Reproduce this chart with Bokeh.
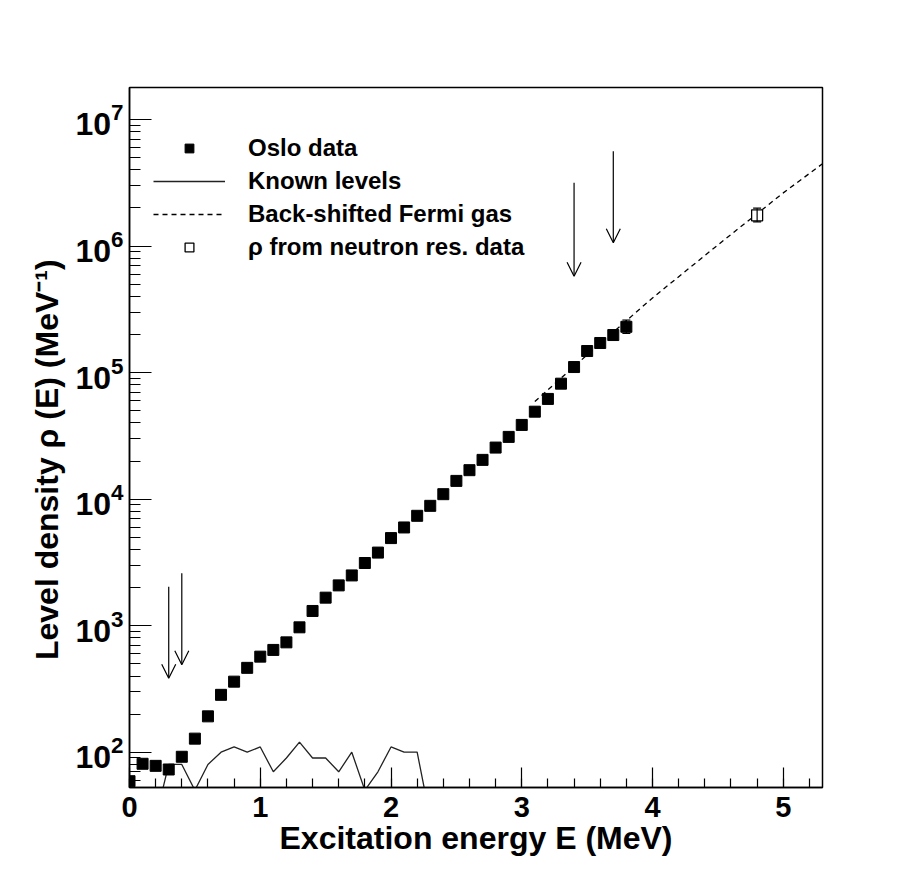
from bokeh.plotting import figure
from bokeh.models import (FixedTicker, Range1d, Legend, LegendItem, Arrow, OpenHead,
                          Whisker, TeeHead, ColumnDataSource, LogTickFormatter)
from bokeh.embed import file_html
from bokeh.resources import INLINE

# ---------------- data ----------------
oslo_E = [0.0, 0.1, 0.2, 0.3, 0.4, 0.5, 0.6, 0.7, 0.8, 0.9,
          1.0, 1.1, 1.2, 1.3, 1.4, 1.5, 1.6, 1.7, 1.8, 1.9,
          2.0, 2.1, 2.2, 2.3, 2.4, 2.5, 2.6, 2.7, 2.8, 2.9,
          3.0, 3.1, 3.2, 3.3, 3.4, 3.5, 3.6, 3.7, 3.8]
oslo_rho = [59, 81, 78, 73, 92, 128, 192, 284, 361, 464,
            569, 643, 738, 970, 1306, 1664, 2081, 2494, 3127, 3780,
            4920, 5970, 7380, 8850, 10940, 13930, 16930, 20420, 25550, 31020,
            38570, 49080, 61900, 81700, 110600, 148000, 171300, 198000, 230000]
oslo_err_E = [3.7, 3.8]
oslo_err_lo = [188000, 204000]
oslo_err_hi = [210000, 260000]

levels_E = [0.2, 0.3, 0.4, 0.5, 0.6, 0.7, 0.8, 0.9, 1.0, 1.1, 1.2,
            1.3, 1.4, 1.5, 1.6, 1.7, 1.8, 1.9, 2.0, 2.1, 2.2, 2.3]
levels_rho = [30, 80, 80, 50, 80, 100, 110, 100, 110, 70, 90,
              120, 90, 90, 70, 100, 50, 70, 110, 100, 100, 30]

bsfg_E = [3.1, 3.5, 4.0, 4.5, 5.0, 5.3]
bsfg_rho = [5.9e4, 1.38e5, 3.89e5, 1.02e6, 2.63e6, 4.47e6]

neutron_E = [4.8]
neutron_rho = [1.75e6]
neutron_lo = [1.55e6]
neutron_hi = [1.99e6]

arrow_E = [0.3, 0.4, 3.4, 3.7]
arrow_top = [2030, 2590, 3.16e6, 5.61e6]
arrow_tip = [384, 490, 5.78e5, 1.06e6]

x_ticks = [0, 1, 2, 3, 4, 5]
y_ticks = [1e2, 1e3, 1e4, 1e5, 1e6, 1e7]

FONT = "Liberation Sans"

# ---------------- figure ----------------
p = figure(width=898, height=870, output_backend="svg", toolbar_location=None,
           x_range=Range1d(0, 5.3), y_range=Range1d(52.6, 1.79e7), y_axis_type="log",
           min_border_left=129, min_border_right=76, min_border_top=87, min_border_bottom=83)
p.background_fill_color = "white"
p.border_fill_color = "white"
p.outline_line_color = "black"
p.outline_line_width = 1.5
p.grid.visible = False

p.xaxis.ticker = FixedTicker(ticks=x_ticks, minor_ticks=[round(0.2 * i, 1) for i in range(27)])
minor_y = [m * 10.0 ** k for k in range(1, 8) for m in range(2, 10)]
p.yaxis.ticker = FixedTicker(ticks=y_ticks, minor_ticks=minor_y)
p.yaxis.formatter = LogTickFormatter()

for ax in (p.xaxis, p.yaxis):
    ax.axis_line_color = "black"
    ax.axis_line_width = 1.5
    ax.major_tick_line_color = "black"
    ax.minor_tick_line_color = "black"
    ax.major_tick_line_width = 1.2
    ax.minor_tick_line_width = 1.2
    ax.major_tick_out = 0
    ax.minor_tick_out = 0
    ax.major_label_text_font = FONT
    ax.major_label_text_font_style = "bold"
    ax.major_label_text_color = "black"
    ax.axis_label_text_font = FONT
    ax.axis_label_text_font_style = "bold"
    ax.axis_label_text_color = "black"
    ax.axis_label_text_font_size = "32px"

p.xaxis.major_tick_in = 20
p.xaxis.minor_tick_in = 9
p.yaxis.major_tick_in = 22
p.yaxis.minor_tick_in = 11
p.xaxis.major_label_text_font_size = "29px"
p.yaxis.major_label_text_font_size = "32px"
p.xaxis.major_label_standoff = 9
p.yaxis.major_label_standoff = 6
p.xaxis.axis_label = "Excitation energy E (MeV)"
p.yaxis.axis_label = "Level density \u03c1 (E) (MeV\u207b\u00b9)" + "\u00a0" * 5
p.xaxis.axis_label_standoff = 0
p.yaxis.axis_label_standoff = 7

# ---------------- glyphs ----------------
r_levels = p.line(levels_E, levels_rho, line_color="#222222", line_width=1.3)
r_bsfg = p.line(bsfg_E, bsfg_rho, line_color="black", line_width=1.3, line_dash="5 4")

err_src = ColumnDataSource(dict(x=oslo_err_E, lo=oslo_err_lo, hi=oslo_err_hi))
p.add_layout(Whisker(base="x", lower="lo", upper="hi", source=err_src, dimension="height",
                     line_color="black", line_width=1.2, level="glyph",
                     lower_head=TeeHead(size=8, line_width=1.2, line_color="black"),
                     upper_head=TeeHead(size=8, line_width=1.2, line_color="black")))

r_oslo = p.scatter(oslo_E, oslo_rho, marker="square", size=11,
                   fill_color="black", line_color="black")

r_neut = p.scatter(neutron_E, neutron_rho, marker="square", size=11,
                   fill_color="white", line_color="black", line_width=1.3)
n_src = ColumnDataSource(dict(x=neutron_E, lo=neutron_lo, hi=neutron_hi))
p.add_layout(Whisker(base="x", lower="lo", upper="hi", source=n_src, dimension="height",
                     line_color="black", line_width=1.2, level="overlay",
                     lower_head=TeeHead(size=8, line_width=1.2, line_color="black"),
                     upper_head=TeeHead(size=8, line_width=1.2, line_color="black")))

arr_src = ColumnDataSource(dict(x=arrow_E, y0=arrow_top, y1=arrow_tip))
p.add_layout(Arrow(x_start="x", y_start="y0", x_end="x", y_end="y1", source=arr_src,
                   line_color="black", line_width=1.2,
                   end=OpenHead(size=14, line_color="black", line_width=1.2)))

# ---------------- legend ----------------
legend = Legend(items=[
    LegendItem(label="Oslo data", renderers=[r_oslo]),
    LegendItem(label="Known levels", renderers=[r_levels]),
    LegendItem(label="Back-shifted Fermi gas", renderers=[r_bsfg]),
    LegendItem(label="\u03c1 from neutron res. data", renderers=[r_neut]),
], location=(24, 526))
legend.border_line_alpha = 0
legend.background_fill_alpha = 0
legend.padding = 0
legend.margin = 0
legend.label_text_font = FONT
legend.label_text_font_style = "bold"
legend.label_text_font_size = "24px"
legend.label_text_color = "black"
legend.label_standoff = 23
legend.glyph_width = 72
legend.glyph_height = 22
legend.label_height = 20
legend.spacing = 5
p.add_layout(legend)

open("out.html", "w").write(file_html(p, INLINE))
